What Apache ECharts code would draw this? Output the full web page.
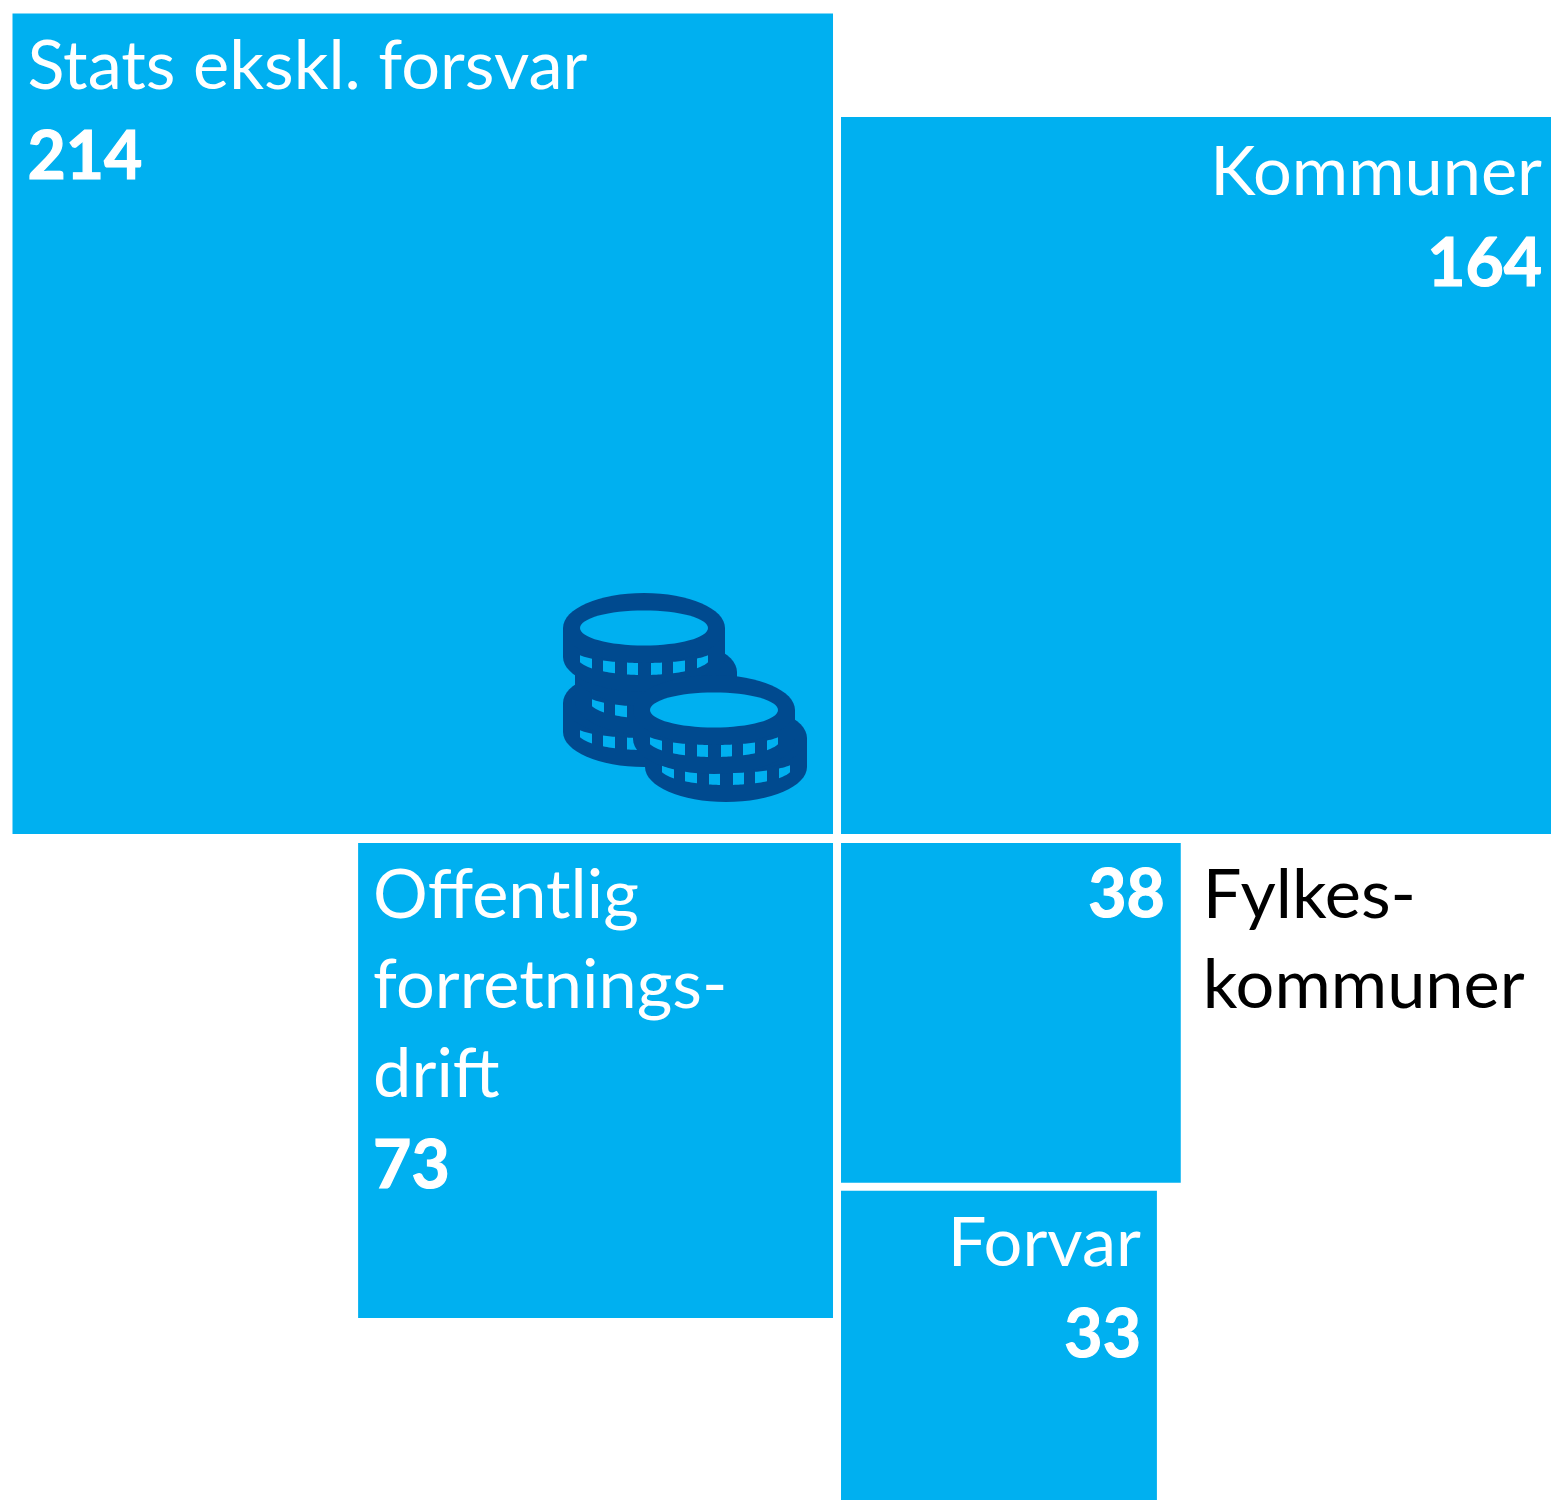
<!DOCTYPE html>
<html lang="en">
<head>
    <meta charset="utf-8">
    <title>Areal per sektor</title>
    <script src="https://cdn.jsdelivr.net/npm/echarts@6/dist/echarts.min.js"></script>
    <style>
        html, body { margin: 0; padding: 0; background: #fff; overflow: hidden; }
        #chart { width: 1551px; height: 1500px; }
    </style>
</head>
<body>
<div id="chart"></div>
<script>
    // data
    var categories = ['Stats ekskl. forsvar', 'Kommuner', 'Offentlig\nforretnings-\ndrift', 'Fylkes-\nkommuner', 'Forvar'];
    var values = [214, 164, 73, 38, 33];

    // which quadrant each square grows into from the shared corner
    var xDirs = [-1, 1, -1, 1, 1];
    var yDirs = [-1, -1, 1, 1, 1];
    // Forvar hangs under Fylkeskommuner
    var stackedOn = [null, null, null, null, 3];
    var labelSides = ['left', 'right', 'left', 'outside', 'right'];
    var labelNudgeY = [0, 3, 0, 0, 0];

    var BLUE = '#00b0f0';
    var DARK = '#004a8f';
    var FONT = 'Lato';
    var TEXT_SIZE = 68.5;
    var VALUE_SIZE = 66;
    var LINE = 89.5;
    var PAD = 16;

    function textEl(text, x, y, align, fill, bold) {
        var style = {
            text: text, x: x, y: y, fill: fill,
            font: bold ? 'bold ' + VALUE_SIZE + 'px ' + FONT : TEXT_SIZE + 'px ' + FONT,
            align: align, verticalAlign: 'middle'
        };
        if (bold) {
            style.stroke = fill;
            style.lineWidth = 1.2;
        }
        return { type: 'text', silent: true, style: style };
    }

    function renderSquare(params, api) {
        var i = params.dataIndex;
        var v = api.value(0);
        var side = Math.sqrt(v);
        var stacked = stackedOn[i] !== null;
        var base = stacked ? Math.sqrt(values[stackedOn[i]]) : 0;
        var p0 = api.coord([0, base]);
        var p1 = api.coord([xDirs[i] * side, base + yDirs[i] * side]);

        // white gap between the squares: part on the inner edge, rest on the outer
        var x0 = p0[0] + xDirs[i] * 4, y0 = p0[1] + yDirs[i] * (stacked ? 2.1 : 4.5);
        var x1 = p1[0] - xDirs[i] * 6.4, y1 = p1[1] - yDirs[i] * 5.9;
        var left = Math.min(x0, x1), right = Math.max(x0, x1);
        var top = Math.min(y0, y1), bottom = Math.max(y0, y1);

        var kids = [{
            type: 'rect',
            shape: { x: left, y: top, width: right - left, height: bottom - top },
            style: { fill: BLUE }
        }];

        var lines = categories[i].split('\n');
        var where = labelSides[i];
        var cy = top + 53 + labelNudgeY[i];
        if (where === 'outside') {
            lines.forEach(function (l, n) {
                kids.push(textEl(l, right + 22, cy + n * LINE, 'left', '#000'));
            });
            kids.push(textEl(String(v), right - PAD, cy, 'right', '#fff', true));
        } else {
            var tx = where === 'left' ? left + PAD - 1 : right - PAD;
            lines.forEach(function (l, n) {
                kids.push(textEl(l, tx, cy + n * LINE, where, '#fff'));
            });
            kids.push(textEl(String(v), tx, cy + lines.length * LINE + 2, where, '#fff', true));
        }
        return { type: 'group', children: kids };
    }

    // coin icon, decoration only
    var tickSpans = [[-64, -52], [-41, -29], [-17, -6], [7, 18], [29, 41], [53, 64]];

    function tick(cx, cy, span) {
        var upper = [], lower = [];
        for (var s = 0; s <= 6; s++) {
            var dx = span[0] + (span[1] - span[0]) * s / 6;
            upper.push([cx + dx, cy + 22 + 13 * Math.sqrt(1 - dx * dx / 4900)]);
            lower.unshift([cx + dx, cy + 30 + 17 * Math.sqrt(1 - dx * dx / 4356)]);
        }
        return { type: 'polygon', shape: { points: upper.concat(lower) }, style: { fill: BLUE } };
    }

    function coin(cx, cy, hasTop) {
        var els = [
            { type: 'ellipse', shape: { cx: cx, cy: cy + 29, rx: 81, ry: 35 }, style: { fill: DARK } },
            { type: 'rect', shape: { x: cx - 81, y: cy, width: 162, height: 29 }, style: { fill: DARK } },
            { type: 'ellipse', shape: { cx: cx, cy: cy, rx: 81, ry: 35 }, style: { fill: DARK } }
        ];
        tickSpans.forEach(function (span) { els.push(tick(cx, cy, span)); });
        if (hasTop) {
            els.push({ type: 'ellipse', shape: { cx: cx, cy: cy, rx: 64, ry: 17.5 }, style: { fill: BLUE } });
        }
        return els;
    }

    var icon = [].concat(
        coin(644, 703, false),
        coin(656, 672, false),
        coin(644, 628, true),
        coin(726, 738, false),
        coin(714, 710, true)
    );

    var chart = echarts.init(document.getElementById('chart'));
    chart.setOption({
        animation: false,
        backgroundColor: '#fff',
        grid: { left: 0, right: 0, top: 0, bottom: 0 },
        // one axis unit = sqrt of one value unit, so square area follows the value
        xAxis: { type: 'value', show: false, min: -14.736, max: 12.57 },
        yAxis: { type: 'value', show: false, inverse: true, min: -14.762, max: 11.646 },
        series: [{
            type: 'custom',
            coordinateSystem: 'cartesian2d',
            clip: false,
            renderItem: renderSquare,
            data: values.map(function (v) { return [v]; }),
            encode: { x: [], y: [] }
        }],
        graphic: {
            elements: [{ type: 'group', z: 10, silent: true, children: icon.map(function (e) { e.z = 10; return e; }) }]
        }
    });
</script>
</body>
</html>
